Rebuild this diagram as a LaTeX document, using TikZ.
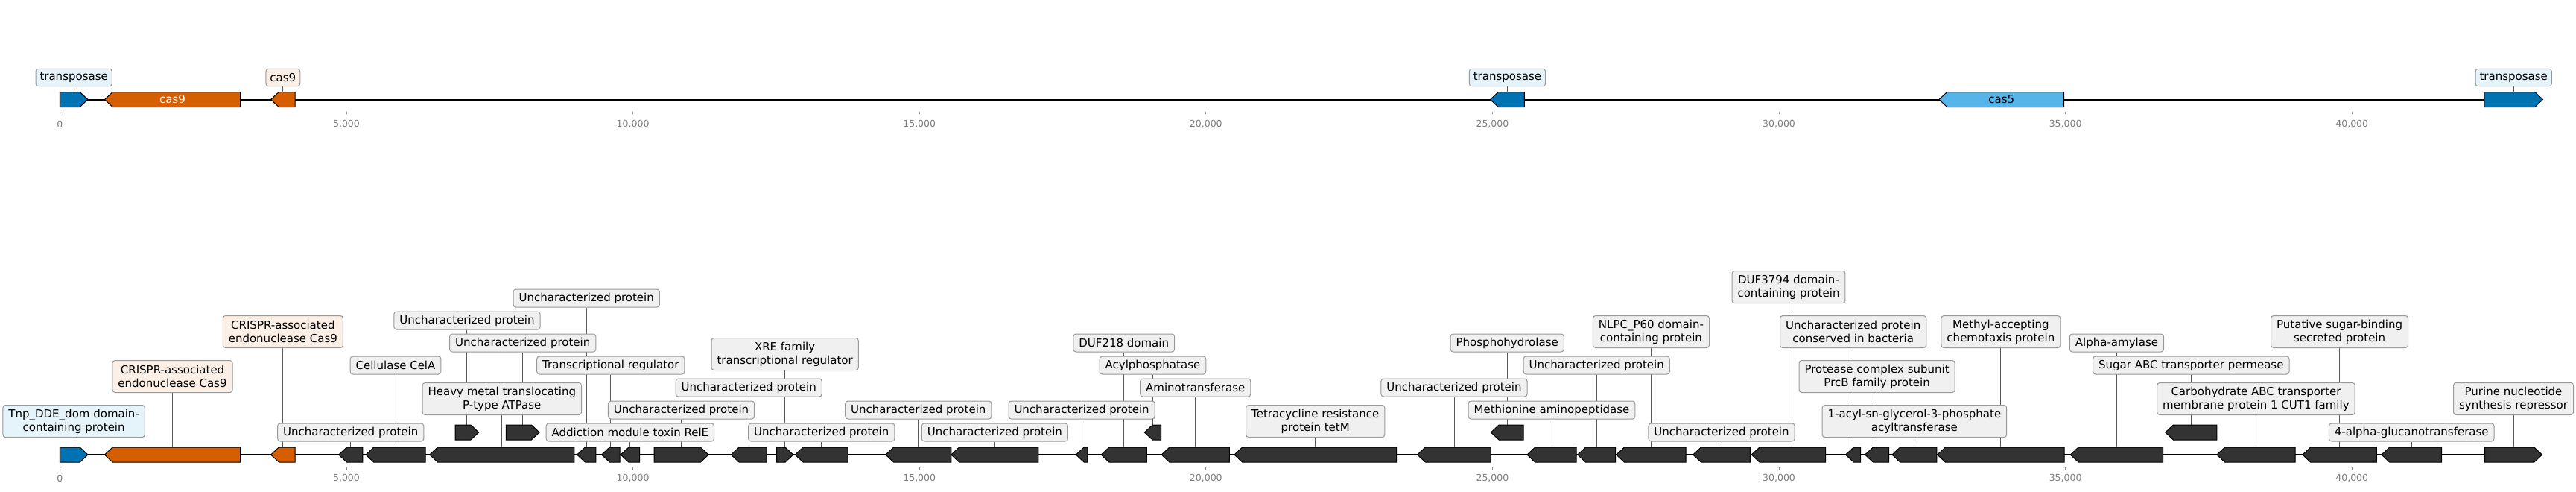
\documentclass[tikz,border=0pt]{standalone}
\usepackage{fontspec}
\setmainfont{DejaVu Sans}
\definecolor{tnpblue}{HTML}{0072B2}
\definecolor{casorange}{HTML}{D55E00}
\definecolor{caslight}{HTML}{56B4E9}
\definecolor{genegray}{HTML}{333333}
\definecolor{boxgray}{HTML}{F0F0F0}
\definecolor{boxblue}{HTML}{E5F3FA}
\definecolor{boxorange}{HTML}{FCEFE5}
\definecolor{edgegray}{HTML}{999999}
\pgfdeclarelayer{bg}
\pgfsetlayers{bg,main}
\tikzset{
  gene/.style={draw=black, line width=1pt, line join=miter},
  backbone/.style={line width=2pt, black},
  conn/.style={draw=black!65, line width=0.9pt},
  lab/.style={draw=edgegray, line width=1pt, rounded corners=3.5pt, fill=boxgray,
    font=\fontsize{15}{18}\selectfont, align=center, inner xsep=7.5pt,
    inner ysep=0pt, minimum height=24pt},
  lab2/.style={lab, minimum height=43pt},
  toplab/.style={lab, inner xsep=5.5pt, minimum height=23.4pt},
  tick/.style={draw=black!45, line width=0.8pt},
  ticklab/.style={text=black!50, font=\fontsize{12.5}{15}\selectfont, inner sep=0pt}
}
% 遺伝子の矢印 (名前, 始点, 終点, y, 色)
\newcommand{\fgene}[5]{%
  \draw[gene, fill=#5] (#2,#4-10) -- ([xshift=-10.7pt]#3,#4-10) -- (#3,#4)
    -- ([xshift=-10.7pt]#3,#4+10) -- (#2,#4+10) -- cycle;
  \coordinate (#1) at ({(#2+#3)/2},#4-10);}
\newcommand{\rgene}[5]{%
  \draw[gene, fill=#5] (#3,#4-10) -- ([xshift=10.7pt]#2,#4-10) -- (#2,#4)
    -- ([xshift=10.7pt]#2,#4+10) -- (#3,#4+10) -- cycle;
  \coordinate (#1) at ({(#2+#3)/2},#4-10);}
\begin{document}
\begin{tikzpicture}[x=76.92pt, y=-1pt]
  \useasboundingbox (-1.0452,0) rectangle (43.910,659);

  % 背景と軸
  \begin{pgfonlayer}{bg}
    \fill[white] (-1.0452,0) rectangle (43.910,659);
  \end{pgfonlayer}
  \draw[backbone] (0,133.5) -- (43.33,133.5);
  \draw[backbone] (0,610) -- (43.33,610);
  \foreach \k/\t in {0/0, 5/{5,000}, 10/{10,000}, 15/{15,000}, 20/{20,000},
      25/{25,000}, 30/{30,000}, 35/{35,000}, 40/{40,000}} {
    \draw[tick] (\k,150) -- (\k,153.3);
    \node[ticklab] (ta\k) at (\k,166.7) {\t};
    \draw[tick] (\k,626.7) -- (\k,630);
    \node[ticklab] (tb\k) at (\k,641.7) {\t};
  }

  % 上段の遺伝子
  \fgene{T1}{0}{0.488}{133.5}{tnpblue}
  \rgene{T2}{0.781}{3.149}{133.5}{casorange}
  \rgene{T3}{3.682}{4.104}{133.5}{casorange}
  \rgene{T4}{24.962}{25.558}{133.5}{tnpblue}
  \rgene{T5}{32.794}{34.974}{133.5}{caslight}
  \fgene{T6}{42.310}{43.331}{133.5}{tnpblue}
  \node[font=\fontsize{15}{18}\selectfont, text=white] (N2) at (T2 |- 0,133.5) {cas9};
  \node[font=\fontsize{15}{18}\selectfont] (N5) at (T5 |- 0,133.5) {cas5};

  % 上段のラベル
  \node[toplab, fill=boxblue] (TL1) at (T1 |- 0,104) {transposase};
  \node[toplab, fill=boxorange] (TL3) at (T3 |- 0,104) {cas9};
  \node[toplab, fill=boxblue] (TL4) at (T4 |- 0,104) {transposase};
  \node[toplab, fill=boxblue] (TL6) at (T6 |- 0,104) {transposase};

  % 下段の遺伝子
  \fgene{G1}{0}{0.488}{610}{tnpblue}
  \rgene{G2}{0.781}{3.149}{610}{casorange}
  \rgene{G3}{3.682}{4.104}{610}{casorange}
  \rgene{G4}{4.866}{5.283}{610}{genegray}
  \rgene{G5}{5.338}{6.378}{610}{genegray}
  \rgene{G6}{6.453}{8.976}{610}{genegray}
  \fgene{G7}{6.901}{7.309}{580}{genegray}
  \fgene{G8}{7.787}{8.368}{580}{genegray}
  \rgene{G9}{9.025}{9.354}{610}{genegray}
  \rgene{G10}{9.454}{9.772}{610}{genegray}
  \rgene{G11}{9.787}{10.116}{610}{genegray}
  \fgene{G12}{10.369}{11.320}{610}{genegray}
  \rgene{G13}{11.712}{12.334}{610}{genegray}
  \fgene{G14}{12.508}{12.797}{610}{genegray}
  \rgene{G15}{12.831}{13.752}{610}{genegray}
  \rgene{G16}{14.410}{15.554}{610}{genegray}
  \rgene{G17}{15.554}{17.076}{610}{genegray}
  \rgene{G18}{17.733}{17.932}{610}{genegray}
  \rgene{G19}{18.171}{18.967}{610}{genegray}
  \rgene{G20}{18.928}{19.216}{580}{genegray}
  \rgene{G21}{19.225}{20.410}{610}{genegray}
  \rgene{G22}{20.495}{23.325}{610}{genegray}
  \rgene{G23}{23.689}{24.973}{610}{genegray}
  \rgene{G24}{24.973}{25.541}{580}{genegray}
  \rgene{G25}{25.604}{26.465}{610}{genegray}
  \rgene{G26}{26.486}{27.148}{610}{genegray}
  \rgene{G27}{27.162}{28.377}{610}{genegray}
  \rgene{G28}{28.501}{29.497}{610}{genegray}
  \rgene{G29}{29.522}{30.815}{610}{genegray}
  \rgene{G30}{31.164}{31.426}{610}{genegray}
  \rgene{G31}{31.502}{31.919}{610}{genegray}
  \rgene{G32}{31.974}{32.755}{610}{genegray}
  \rgene{G33}{32.765}{34.979}{610}{genegray}
  \rgene{G34}{35.087}{36.702}{610}{genegray}
  \rgene{G35}{36.743}{37.642}{580}{genegray}
  \rgene{G36}{37.642}{39.009}{610}{genegray}
  \rgene{G37}{39.138}{40.429}{610}{genegray}
  \rgene{G38}{40.517}{41.563}{610}{genegray}
  \fgene{G39}{42.319}{43.318}{610}{genegray}

  % 下段のラベル
  \node[lab2, fill=boxblue] (L1) at (G1 |- 0,565) {Tnp\_DDE\_dom domain-\\containing protein};
  \node[lab2, fill=boxorange] (L2) at (G2 |- 0,505) {CRISPR-associated\\endonuclease Cas9};
  \node[lab2, fill=boxorange] (L3) at (G3 |- 0,445) {CRISPR-associated\\endonuclease Cas9};
  \node[lab] (L4) at (G4 |- 0,580) {Uncharacterized protein};
  \node[lab] (L5) at (G5 |- 0,490) {Cellulase CelA};
  \node[lab2] (L6) at (G6 |- 0,535) {Heavy metal translocating\\P-type ATPase};
  \node[lab] (L7) at (G7 |- 0,430) {Uncharacterized protein};
  \node[lab] (L8) at (G8 |- 0,460) {Uncharacterized protein};
  \node[lab] (L9) at (G9 |- 0,400) {Uncharacterized protein};
  \node[lab] (L10) at (G10 |- 0,490) {Transcriptional regulator};
  \node[lab] (L11) at (G11 |- 0,580) {Addiction module toxin RelE};
  \node[lab] (L12) at (G12 |- 0,550) {Uncharacterized protein};
  \node[lab] (L13) at (G13 |- 0,520) {Uncharacterized protein};
  \node[lab2] (L14) at (G14 |- 0,475) {XRE family\\transcriptional regulator};
  \node[lab] (L15) at (G15 |- 0,580) {Uncharacterized protein};
  \node[lab] (L16) at (G16 |- 0,550) {Uncharacterized protein};
  \node[lab] (L17) at (G17 |- 0,580) {Uncharacterized protein};
  \node[lab] (L18) at (G18 |- 0,550) {Uncharacterized protein};
  \node[lab] (L19) at (G19 |- 0,460) {DUF218 domain};
  \node[lab] (L20) at (G20 |- 0,490) {Acylphosphatase};
  \node[lab] (L21) at (G21 |- 0,520) {Aminotransferase};
  \node[lab2] (L22) at (G22 |- 0,565) {Tetracycline resistance\\protein tetM};
  \node[lab] (L23) at (G23 |- 0,520) {Uncharacterized protein};
  \node[lab] (L24) at (G24 |- 0,460) {Phosphohydrolase};
  \node[lab] (L25) at (G25 |- 0,550) {Methionine aminopeptidase};
  \node[lab] (L26) at (G26 |- 0,490) {Uncharacterized protein};
  \node[lab2] (L27) at (G27 |- 0,445) {NLPC\_P60 domain-\\containing protein};
  \node[lab] (L28) at (G28 |- 0,580) {Uncharacterized protein};
  \node[lab2] (L29) at (G29 |- 0,385) {DUF3794 domain-\\containing protein};
  \node[lab2] (L30) at (G30 |- 0,445) {Uncharacterized protein\\conserved in bacteria};
  \node[lab2] (L31) at (G31 |- 0,505) {Protease complex subunit\\PrcB family protein};
  \node[lab2] (L32) at (G32 |- 0,565) {1-acyl-sn-glycerol-3-phosphate\\acyltransferase};
  \node[lab2] (L33) at (G33 |- 0,445) {Methyl-accepting\\chemotaxis protein};
  \node[lab] (L34) at (G34 |- 0,460) {Alpha-amylase};
  \node[lab] (L35) at (G35 |- 0,490) {Sugar ABC transporter permease};
  \node[lab2] (L36) at (G36 |- 0,535) {Carbohydrate ABC transporter\\membrane protein 1 CUT1 family};
  \node[lab2] (L37) at (G37 |- 0,445) {Putative sugar-binding\\secreted protein};
  \node[lab] (L38) at (G38 |- 0,580) {4-alpha-glucanotransferase};
  \node[lab2] (L39) at (G39 |- 0,535) {Purine nucleotide\\synthesis repressor};

  % 接続線
  \begin{pgfonlayer}{bg}
    \foreach \i in {1,3,4,6}
      \draw[conn] (TL\i.south) -- (T\i);
    \foreach \i in {1,...,39}
      \draw[conn] (L\i.south) -- (G\i);
  \end{pgfonlayer}
\end{tikzpicture}
\end{document}
